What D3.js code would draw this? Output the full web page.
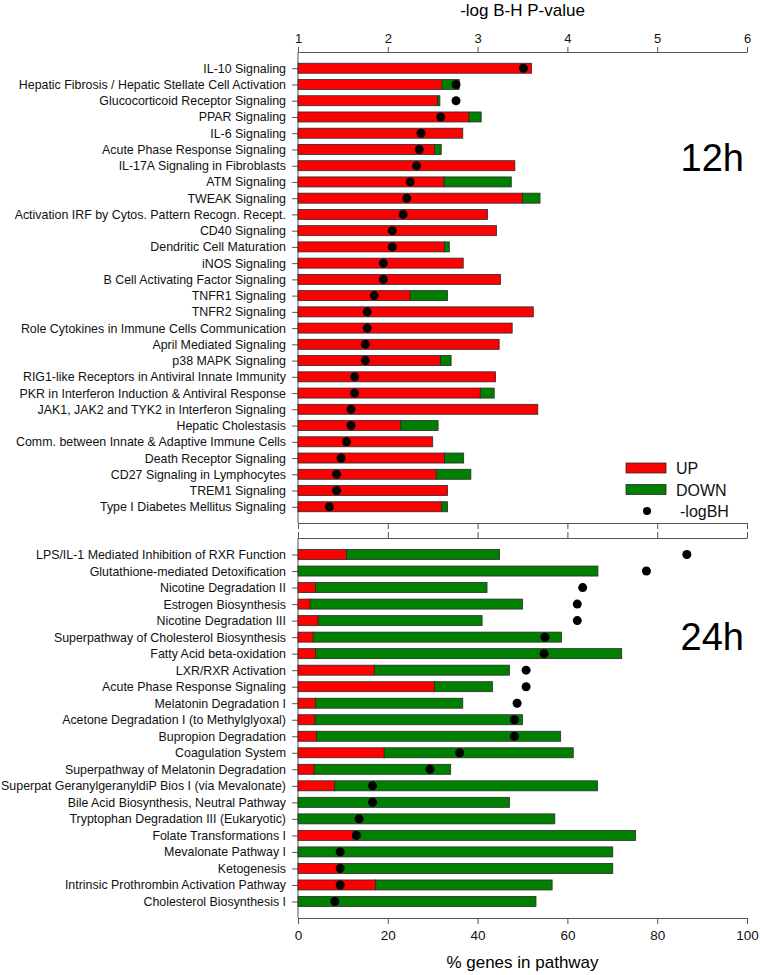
<!DOCTYPE html>
<html>
<head>
<meta charset="utf-8">
<script src="https://cdn.jsdelivr.net/npm/d3@7"></script>
<style>
  body { margin: 0; background: #fff; }
  svg { display: block; font-family: Arial, 'Liberation Sans', sans-serif; }
</style>
</head>
<body>
<div id="chart"></div>
<script>
// 12h pathways
const pathways12h = [
  'IL-10 Signaling',
  'Hepatic Fibrosis / Hepatic Stellate Cell Activation',
  'Glucocorticoid Receptor Signaling',
  'PPAR Signaling',
  'IL-6 Signaling',
  'Acute Phase Response Signaling',
  'IL-17A Signaling in Fibroblasts',
  'ATM Signaling',
  'TWEAK Signaling',
  'Activation IRF by Cytos. Pattern Recogn. Recept.',
  'CD40 Signaling',
  'Dendritic Cell Maturation',
  'iNOS Signaling',
  'B Cell Activating Factor Signaling',
  'TNFR1 Signaling',
  'TNFR2 Signaling',
  'Role Cytokines in Immune Cells Communication',
  'April Mediated Signaling',
  'p38 MAPK Signaling',
  'RIG1-like Receptors in Antiviral Innate Immunity',
  'PKR in Interferon Induction & Antiviral Response',
  'JAK1, JAK2 and TYK2 in Interferon Signaling',
  'Hepatic Cholestasis',
  'Comm. between Innate & Adaptive Immune Cells',
  'Death Receptor Signaling',
  'CD27 Signaling in Lymphocytes',
  'TREM1 Signaling',
  'Type I Diabetes Mellitus Signaling'
];
const up12h = [52.0, 32.1, 31.1, 38.1, 36.7, 30.4, 48.3, 32.5, 50.0, 42.2, 44.2, 32.6, 36.8, 45.1,
  25.0, 52.4, 47.7, 44.8, 31.7, 44.0, 40.6, 53.4, 22.9, 30.0, 32.6, 30.8, 33.3, 32.0];
const down12h = [0, 3.8, 0.5, 2.7, 0, 1.5, 0, 15.0, 3.9, 0, 0, 1.1, 0, 0,
  8.3, 0, 0, 0, 2.4, 0, 3.1, 0, 8.3, 0, 4.3, 7.7, 0, 1.3];
const logBH12h = [3.51, 2.76, 2.76, 2.59, 2.37, 2.35, 2.32, 2.25, 2.21, 2.17, 2.05, 2.05, 1.95, 1.95,
  1.85, 1.77, 1.77, 1.75, 1.75, 1.63, 1.63, 1.59, 1.59, 1.54, 1.48, 1.43, 1.43, 1.35];

// 24h pathways
const pathways24h = [
  'LPS/IL-1 Mediated Inhibition of RXR Function',
  'Glutathione-mediated Detoxification',
  'Nicotine Degradation II',
  'Estrogen Biosynthesis',
  'Nicotine Degradation III',
  'Superpathway of Cholesterol Biosynthesis',
  'Fatty Acid beta-oxidation',
  'LXR/RXR Activation',
  'Acute Phase Response Signaling',
  'Melatonin Degradation I',
  'Acetone Degradation I (to Methylglyoxal)',
  'Bupropion Degradation',
  'Coagulation System',
  'Superpathway of Melatonin Degradation',
  'Superpat GeranylgeranyldiP Bios I (via Mevalonate)',
  'Bile Acid Biosynthesis, Neutral Pathway',
  'Tryptophan Degradation III (Eukaryotic)',
  'Folate Transformations I',
  'Mevalonate Pathway I',
  'Ketogenesis',
  'Intrinsic Prothrombin Activation Pathway',
  'Cholesterol Biosynthesis I'
];
const up24h = [10.8, 0, 3.9, 2.7, 4.5, 3.4, 3.9, 17.0, 30.4, 3.9, 3.8, 4.1, 19.2, 3.6,
  8.2, 0, 0, 12.3, 0, 9.4, 17.3, 0];
const down24h = [34.1, 66.8, 38.2, 47.3, 36.5, 55.3, 68.2, 30.1, 12.9, 32.8, 46.2, 54.4, 42.1, 30.4,
  58.5, 47.1, 57.2, 62.9, 70.1, 60.7, 39.3, 53.0];
const logBH24h = [5.33, 4.88, 4.17, 4.11, 4.11, 3.75, 3.74, 3.54, 3.54, 3.44, 3.41, 3.41, 2.80, 2.47,
  1.83, 1.83, 1.68, 1.65, 1.47, 1.47, 1.47, 1.41];

const pctTicks = [0, 20, 40, 60, 80, 100];
const logTicks = [1, 2, 3, 4, 5, 6];
const legendItems = ['UP', 'DOWN', '-logBH'];

const width = 760;
const height = 975;
const left = 298;
const right = 747;
const RED = '#ff0000';
const GREEN = '#008000';
const AXIS = '#555';

const svg = d3.select('#chart')
  .append('svg')
  .attr('width', width)
  .attr('height', height);

const x = d3.scaleLinear().domain([0, 100]).range([left, right]);
const xLog = d3.scaleLinear().domain([1, 6]).range([left, right]);

function styleAxis(g) {
  g.selectAll('path, line').attr('stroke', AXIS);
  g.selectAll('text').attr('fill', '#111');
}

// one panel (12h or 24h)
function drawPanel(names, up, down, logBH, top, bottom, tag, tagY) {
  const y = d3.scalePoint().domain(names).range([top, bottom]).padding(1);
  const barH = 10;

  const rows = names.map((n, i) => ({ name: n, up: up[i], down: down[i], log: logBH[i] }));

  svg.append('g')
    .attr('transform', `translate(${left},0)`)
    .call(d3.axisLeft(y).tickSize(6).tickPadding(6).tickSizeOuter(0))
    .call((g) => g.select('.domain').attr('d', `M0,${top}V${bottom}`))
    .attr('font-size', '12.4px')
    .call(styleAxis);

  const bars = svg.append('g');
  bars.selectAll('.up')
    .data(rows.filter((d) => d.up > 0))
    .enter()
    .append('rect')
    .attr('x', x(0))
    .attr('y', (d) => y(d.name) - barH / 2)
    .attr('width', (d) => x(d.up) - x(0))
    .attr('height', barH)
    .attr('fill', RED)
    .attr('stroke', '#2a2a2a')
    .attr('stroke-width', 0.8);

  bars.selectAll('.down')
    .data(rows.filter((d) => d.down > 0))
    .enter()
    .append('rect')
    .attr('x', (d) => x(d.up))
    .attr('y', (d) => y(d.name) - barH / 2)
    .attr('width', (d) => x(d.up + d.down) - x(d.up))
    .attr('height', barH)
    .attr('fill', GREEN)
    .attr('stroke', '#2a2a2a')
    .attr('stroke-width', 0.8);

  svg.append('g')
    .selectAll('circle')
    .data(rows)
    .enter()
    .append('circle')
    .attr('cx', (d) => xLog(d.log))
    .attr('cy', (d) => y(d.name))
    .attr('r', 4.5)
    .attr('fill', '#000');

  svg.append('text')
    .attr('x', 744)
    .attr('y', tagY)
    .attr('text-anchor', 'end')
    .style('font-size', '38px')
    .attr('fill', '#000')
    .text(tag);
}

const top12 = 52, bottom12 = 523;
const top24 = 538, bottom24 = 918;

// top axis: -log B-H P-value
svg.append('g')
  .attr('transform', `translate(0,${top12})`)
  .call(d3.axisTop(xLog).tickValues(logTicks).tickFormat(d3.format('d')).tickSize(5).tickPadding(4).tickSizeOuter(0))
  .attr('font-size', '13px')
  .call(styleAxis);

svg.append('text')
  .attr('x', (left + right) / 2)
  .attr('y', 16)
  .attr('text-anchor', 'middle')
  .style('font-size', '17px')
  .text('-log B-H P-value');

// 12h bottom axis and 24h top axis, ticks only
svg.append('g')
  .attr('transform', `translate(0,${bottom12})`)
  .call(d3.axisBottom(x).tickValues(pctTicks).tickSize(6).tickSizeOuter(0).tickFormat(''))
  .call(styleAxis);

svg.append('g')
  .attr('transform', `translate(0,${top24})`)
  .call(d3.axisTop(x).tickValues(pctTicks).tickSize(6).tickSizeOuter(0).tickFormat(''))
  .call(styleAxis);

// bottom axis: % genes in pathway
svg.append('g')
  .attr('transform', `translate(0,${bottom24})`)
  .call(d3.axisBottom(x).tickValues(pctTicks).tickSize(6).tickPadding(6).tickSizeOuter(0))
  .attr('font-size', '13.5px')
  .call(styleAxis);

svg.append('text')
  .attr('x', (left + right) / 2)
  .attr('y', 968)
  .attr('text-anchor', 'middle')
  .style('font-size', '17px')
  .text('% genes in pathway');

drawPanel(pathways12h, up12h, down12h, logBH12h, top12, bottom12, '12h', 171);
drawPanel(pathways24h, up24h, down24h, logBH24h, top24, bottom24, '24h', 650);

// legend
const legend = svg.append('g').attr('transform', 'translate(626,468)');
legendItems.forEach((d, i) => {
  const row = legend.append('g').attr('transform', `translate(0,${i * 21.5})`);
  if (i < 2) {
    row.append('rect')
      .attr('x', 0)
      .attr('y', -5)
      .attr('width', 40)
      .attr('height', 10)
      .attr('fill', i === 0 ? RED : GREEN)
      .attr('stroke', '#2a2a2a')
      .attr('stroke-width', 0.8);
  } else {
    row.append('circle').attr('cx', 21).attr('cy', 0).attr('r', 4).attr('fill', '#000');
  }
  row.append('text')
    .attr('x', i < 2 ? 50 : 54)
    .attr('y', 6)
    .style('font-size', '16px')
    .attr('fill', '#111')
    .text(d);
});
</script>
</body>
</html>
